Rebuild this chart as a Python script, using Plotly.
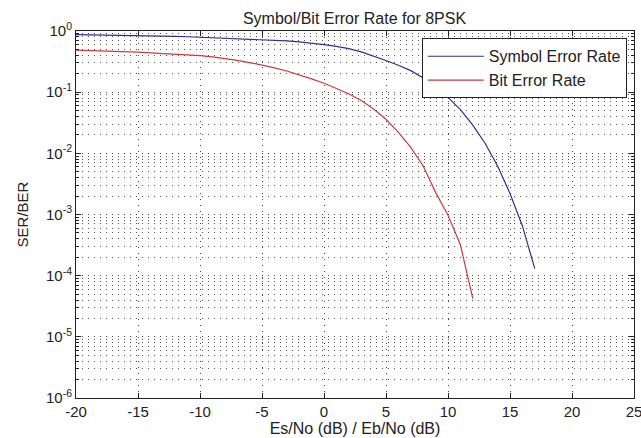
import plotly.graph_objects as go

# Data
snr_ser = list(range(-20, 18))
ser = [0.87, 0.866, 0.862, 0.857, 0.851, 0.845, 0.837, 0.828, 0.818, 0.805,
       0.79, 0.778, 0.765, 0.753, 0.742, 0.73, 0.71, 0.69, 0.665, 0.635,
       0.60, 0.56, 0.515, 0.455, 0.39, 0.33, 0.275, 0.225, 0.17, 0.12,
       0.082, 0.052, 0.029, 0.0145, 0.0062, 0.0022, 0.00065, 0.00013]

snr_ber = list(range(-20, 13))
ber = [0.485, 0.48, 0.475, 0.468, 0.46, 0.45, 0.44, 0.43, 0.42, 0.408,
       0.395, 0.377, 0.356, 0.332, 0.305, 0.278, 0.25, 0.222, 0.193, 0.165,
       0.14, 0.116, 0.094, 0.073, 0.053, 0.036, 0.022, 0.0125, 0.0062, 0.0023,
       0.00097, 0.00032, 0.000042]

series_names = ["Symbol Error Rate", "Bit Error Rate"]
series_colors = ["#2e318c", "#cc3a3f"]

x_ticks = [-20, -15, -10, -5, 0, 5, 10, 15, 20, 25]
x_ticktext = [str(v) for v in x_ticks]
y_exps = [-6, -5, -4, -3, -2, -1, 0]
y_ticks = [10.0 ** e for e in y_exps]
y_ticktext = ["10<sup>%d</sup>" % e for e in y_exps]
y_minor = [m * 10.0 ** e for e in y_exps[:-1] for m in range(2, 10)]

FONT = "Liberation Sans, Arial, sans-serif"

fig = go.Figure()
fig.add_trace(go.Scatter(x=snr_ser, y=ser, mode="lines", name=series_names[0],
                         line=dict(color=series_colors[0], width=1.2)))
fig.add_trace(go.Scatter(x=snr_ber, y=ber, mode="lines", name=series_names[1],
                         line=dict(color=series_colors[1], width=1.2)))

grid_dash = "1px,5px"
fig.update_layout(
    width=641, height=438,
    margin=dict(l=76, r=7, t=31, b=40),
    paper_bgcolor="white", plot_bgcolor="white",
    font=dict(family=FONT, size=15, color="#222"),
    title=dict(text="Symbol/Bit Error Rate for 8PSK", x=0.553, xanchor="center",
               y=0.958, yanchor="middle", font=dict(size=16, color="#222")),
    showlegend=True,
    legend=dict(x=0.987, xanchor="right", y=0.98, yanchor="top",
                bgcolor="white", bordercolor="#222", borderwidth=1,
                font=dict(size=16, color="#222"), itemwidth=56,
                tracegroupgap=0),
    xaxis=dict(range=[-20, 25], tickvals=x_ticks, ticktext=x_ticktext,
               ticks="inside", ticklen=5, automargin=False,
               ticklabeloverflow="allow",
               tickcolor="#222", showline=True, linecolor="#222", linewidth=1,
               mirror="ticks", showgrid=True, gridcolor="#444", gridwidth=1,
               griddash=grid_dash, zeroline=False,
               title=dict(text="Es/No (dB) / Eb/No (dB)", standoff=2,
                          font=dict(size=16))),
    yaxis=dict(type="log", range=[-6, 0], tickvals=y_ticks, ticktext=y_ticktext,
               ticks="inside", ticklen=5, tickcolor="#222", showline=True,
               automargin=False, ticklabeloverflow="allow",
               linecolor="#222", linewidth=1, mirror="ticks", showgrid=True,
               gridcolor="#444", gridwidth=1, griddash=grid_dash, zeroline=False,
               minor=dict(tickvals=y_minor, ticks="inside", ticklen=3,
                          tickcolor="#222", showgrid=True, gridcolor="#555",
                          gridwidth=1, griddash=grid_dash),
               title=dict(text="SER/BER", standoff=13, font=dict(size=15))),
)

fig.write_html("out.html", config={"displayModeBar": False},
               post_script="document.body.style.margin='0';document.body.style.overflow='hidden';")
